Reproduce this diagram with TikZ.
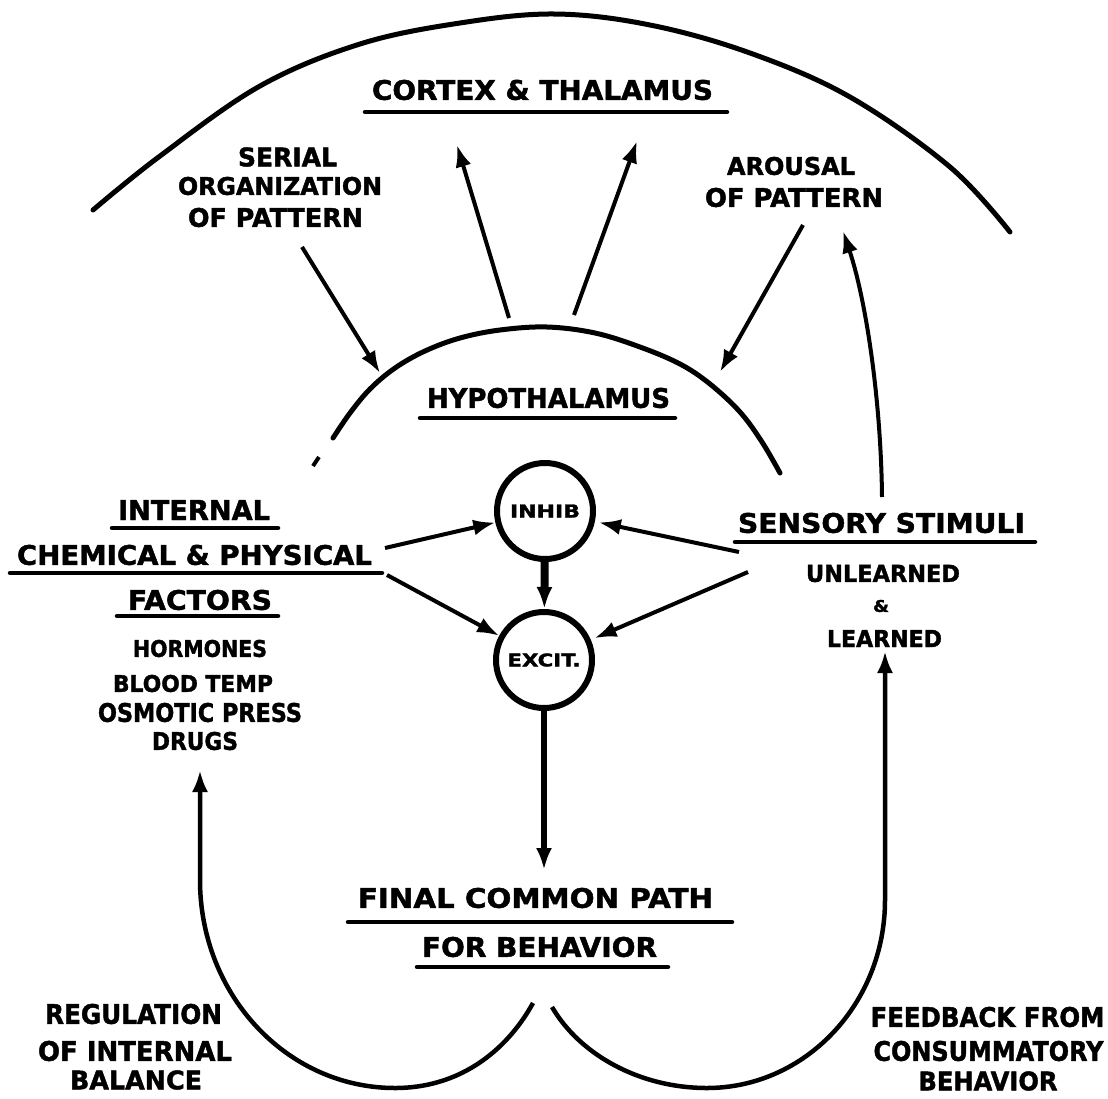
\documentclass[tikz,border=0pt]{standalone}
\usepackage{graphicx}
\usepackage{fontspec}
\setmainfont{DejaVu Sans}[BoldFeatures={FakeBold=1.6}]
\usetikzlibrary{arrows.meta}
\newcommand{\fitlbl}[3]{\resizebox{#1pt}{#2pt}{\bfseries #3}}
\tikzset{
  lbl/.style={inner sep=0pt, outer sep=0pt},
  uline/.style={line width=4.5pt, line cap=round},
  arr/.style={line width=4pt, -{Latex[length=22pt,width=16pt]}},
  curve/.style={line width=4.5pt, line cap=round},
  cir/.style={circle, draw, line width=6pt, minimum size=96pt, inner sep=0pt},
}
\begin{document}
\begin{tikzpicture}[x=1pt,y=-1pt]
\fill[white] (0,0) rectangle (1108,1098);
\useasboundingbox (0,0) rectangle (1108,1098);

% ---- outer arc (cortex & thalamus) ----
\draw[curve, line width=5pt] plot[smooth, tension=0.6] coordinates {
 (93,210) (160,156) (260,86) (360,44) (460,23) (555,14) (650,25) (750,53) (850,97) (950,167) (1010,232)};

% ---- inner arc (hypothalamus) ----
\draw[curve, line width=5pt] plot[smooth, tension=0.6] coordinates {
 (333,438) (350,413) (370,389) (395,368) (425,351) (460,338) (500,330) (547,327)
 (595,333) (640,347) (680,364) (710,384) (740,412) (762,442) (780,473)};
\draw[line width=4pt] (313,466) -- (319,457);

% ---- labels ----
\node[lbl] (cortex) at (542.5,90) {\fitlbl{341}{20}{CORTEX \& THALAMUS}};
\draw[uline] (365,112) -- (727,112);

\node[lbl] (serialA) at (287.5,157) {\fitlbl{99}{19}{SERIAL}};
\node[lbl] (serialB) at (280,186) {\fitlbl{204}{18}{ORGANIZATION}};
\node[lbl] (serialC) at (275.5,217.5) {\fitlbl{175}{19}{OF PATTERN}};

\node[lbl] (arousalA) at (791,166) {\fitlbl{128}{18}{AROUSAL}};
\node[lbl] (arousalB) at (794,197.5) {\fitlbl{178}{19}{OF PATTERN}};

\node[lbl] (hypo) at (548.5,398) {\fitlbl{243}{20}{HYPOTHALAMUS}};
\draw[uline] (420,418) -- (675,418);

\node[lbl] (intA) at (194,510) {\fitlbl{152}{20}{INTERNAL}};
\draw[uline] (112,528) -- (278,528);
\node[lbl] (intB) at (194.5,555) {\fitlbl{355}{20}{CHEMICAL \& PHYSICAL}};
\draw[uline] (10,573) -- (382,573);
\node[lbl] (intC) at (200,600) {\fitlbl{144}{20}{FACTORS}};
\draw[uline] (117,616) -- (278,616);
\node[lbl] (hormones) at (200,648.5) {\fitlbl{134}{17}{HORMONES}};
\node[lbl] (blood) at (193,683.5) {\fitlbl{160}{17}{BLOOD TEMP}};
\node[lbl] (osmotic) at (200,712.5) {\fitlbl{204}{19}{OSMOTIC PRESS}};
\node[lbl] (drugs) at (195,741) {\fitlbl{86}{18}{DRUGS}};

\node[lbl] (sensory) at (881.5,523) {\fitlbl{287}{20}{SENSORY STIMULI}};
\draw[uline] (735,542) -- (1035,542);
\node[lbl] (unlearned) at (883,573.5) {\fitlbl{154}{17}{UNLEARNED}};
\node[lbl] (amp) at (881,606) {\fitlbl{16}{12}{\&}};
\node[lbl] (learned) at (884.5,638.5) {\fitlbl{115}{17}{LEARNED}};

\node[lbl] (finalA) at (535.5,898) {\fitlbl{355}{20}{FINAL COMMON PATH}};
\draw[uline] (348,922) -- (732,922);
\node[lbl] (finalB) at (539.5,947) {\fitlbl{235}{20}{FOR BEHAVIOR}};
\draw[uline] (417,967) -- (668,967);

\node[lbl] (regA) at (133.5,1014) {\fitlbl{177}{20}{REGULATION}};
\node[lbl] (regB) at (135,1051) {\fitlbl{194}{20}{OF INTERNAL}};
\node[lbl] (regC) at (136,1080) {\fitlbl{132}{19}{BALANCE}};

\node[lbl] (fbA) at (987.5,1017) {\fitlbl{234}{20}{FEEDBACK FROM}};
\node[lbl] (fbB) at (988.5,1051) {\fitlbl{230}{20}{CONSUMMATORY}};
\node[lbl] (fbC) at (988,1081) {\fitlbl{139}{19}{BEHAVIOR}};

% ---- circles ----
\node[cir] (inhib) at (545,511) {\fitlbl{70}{13}{INHIB}};
\node[cir] (excit) at (544,660) {\fitlbl{73}{13}{EXCIT.}};

% ---- connector end points ----
\coordinate (serialOut) at (302,247);
\coordinate (serialIn) at (380,373);
\coordinate (arousalOut) at (803,225);
\coordinate (arousalIn) at (720,372);
\coordinate (hypoL) at (509,318);
\coordinate (cortexL) at (457,145);
\coordinate (hypoR) at (574,315);
\coordinate (cortexR) at (637,141);
\coordinate (chemA) at (385,548);
\coordinate (chemB) at (387,575);
\coordinate (sensA) at (739,552);
\coordinate (sensB) at (748,572);
\coordinate (sensUp) at (882,497);
\coordinate (sensTip) at (843,231);
\coordinate (fcp) at (544,870);
\coordinate (leftTip) at (200,770);
\coordinate (rightTip) at (885,651);
\coordinate (leftStart) at (533,1003);
\coordinate (rightStart) at (552,1007);

% ---- connectors ----
\draw[arr] (serialOut) -- (serialIn);
\draw[arr] (arousalOut) -- (arousalIn);
\draw[arr] (hypoL) -- (cortexL);
\draw[arr] (hypoR) -- (cortexR);
\draw[arr] (chemA) -- (inhib);
\draw[arr] (chemB) -- (excit);
\draw[arr, shorten >=4pt] (sensA) -- (inhib);
\draw[arr, shorten >=4pt] (sensB) -- (excit);
\draw[arr, line width=8pt] (inhib) -- (excit);
\draw[arr, line width=6pt] (excit) -- (fcp);
\draw[arr] (sensUp) .. controls (881,400) and (866,300) .. (sensTip);

\draw[arr, line width=4.5pt] (leftStart) .. controls (510,1045) and (465,1088) .. (395,1088)
  .. controls (287,1088) and (200,995) .. (200,880) -- (leftTip);
\draw[arr, line width=4.5pt] (rightStart) .. controls (580,1055) and (640,1088) .. (707,1088)
  .. controls (805,1088) and (885,1004) .. (885,900) -- (rightTip);
\end{tikzpicture}
\end{document}
